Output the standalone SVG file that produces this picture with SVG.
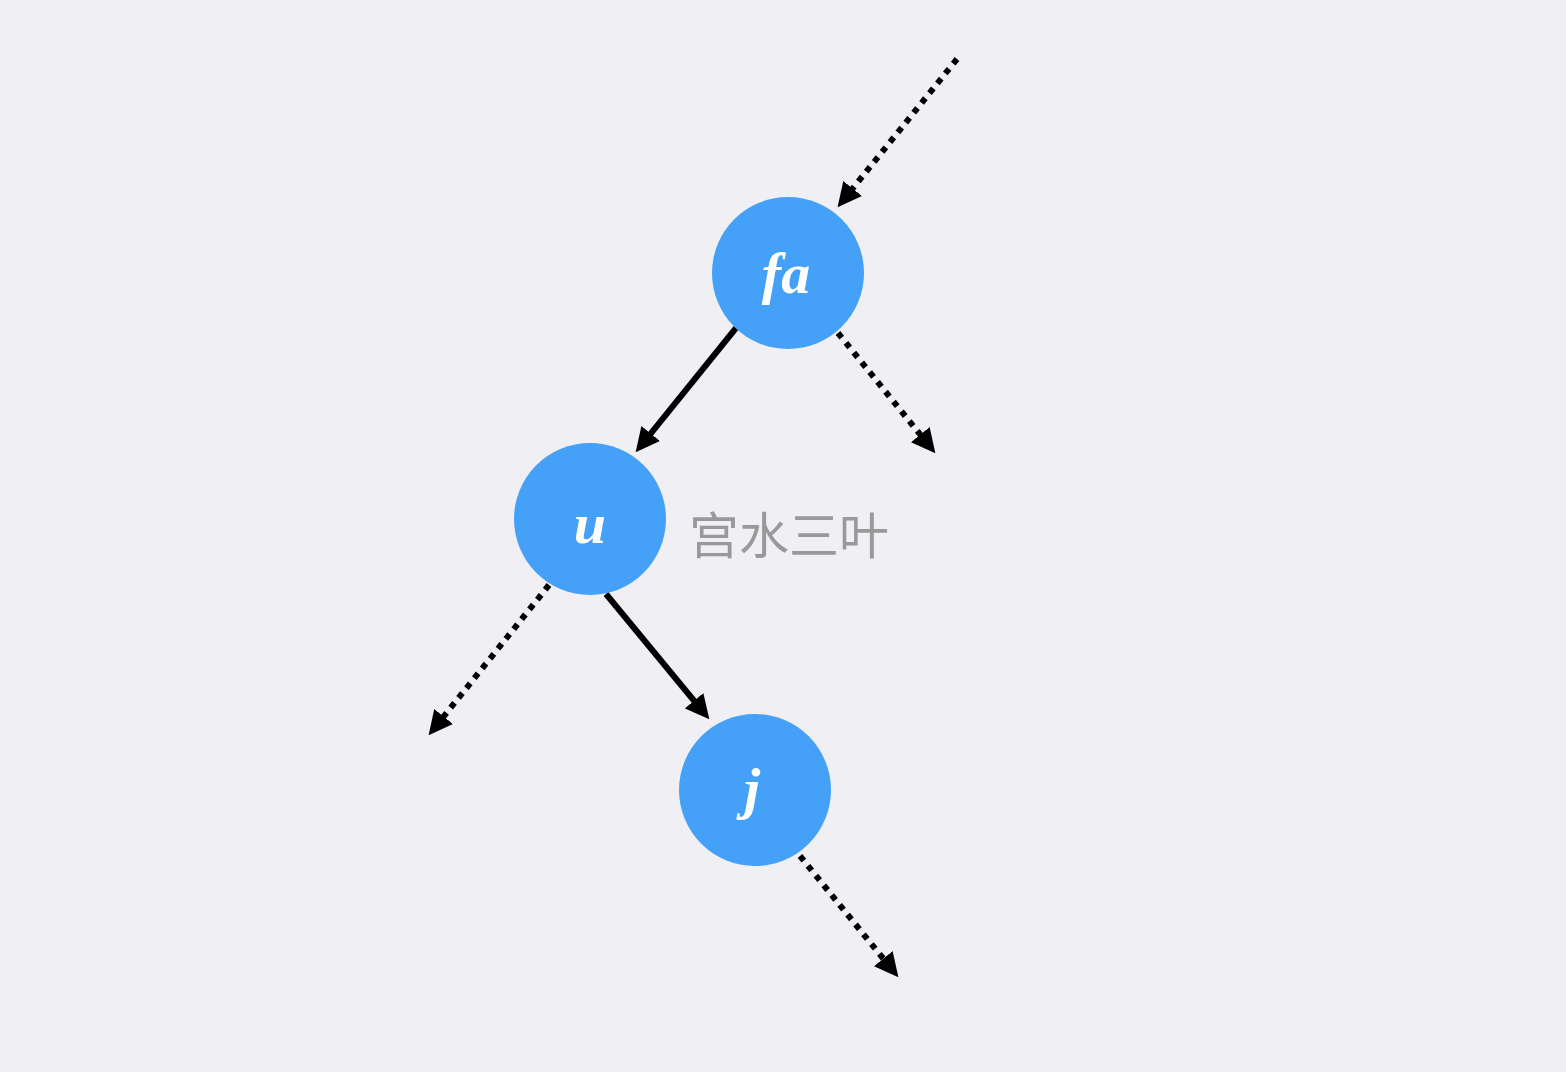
<svg xmlns="http://www.w3.org/2000/svg" width="1566" height="1072" viewBox="0 0 1566 1072">
<style>
.node{fill:#44a1f7}
.lbl{font-family:"Liberation Serif","DejaVu Serif",serif;font-style:italic;font-weight:bold;font-size:58px;fill:#ffffff;text-anchor:middle}
.solid{stroke:#000;stroke-width:6;fill:none}
.dot{stroke:#000;stroke-width:6;fill:none;stroke-dasharray:6 6.6}
.note{font-family:"Noto Sans CJK SC","Noto Sans CJK JP",sans-serif;font-size:50px;fill:#999999}
</style>
<defs>
<marker id="arr" viewBox="0 0 24 24" refX="1" refY="12" markerWidth="24" markerHeight="24" markerUnits="userSpaceOnUse" orient="auto">
<path d="M0,0 L24,12 L0,24 Z" fill="#000"/>
</marker>
</defs>
<rect width="1566" height="1072" fill="#efeff4"/>
<g id="connectors">
<line class="dot" x1="957" y1="59" x2="852" y2="189.3" marker-end="url(#arr)"/>
<line class="solid" x1="736" y1="328" x2="650.1" y2="434.3" marker-end="url(#arr)"/>
<line class="dot" x1="838" y1="333" x2="920.9" y2="435.4" marker-end="url(#arr)"/>
<line class="dot" x1="549" y1="585" x2="443" y2="717.3" marker-end="url(#arr)"/>
<line class="solid" x1="606" y1="594" x2="694.7" y2="701.5" marker-end="url(#arr)"/>
<line class="dot" x1="800" y1="856" x2="883.9" y2="959.4" marker-end="url(#arr)"/>
</g>
<g id="node-fa">
<circle class="node" cx="788" cy="273" r="76"/>
<text class="lbl" x="786" y="293">fa</text>
</g>
<g id="node-u">
<circle class="node" cx="590" cy="519" r="76"/>
<text class="lbl" x="590" y="543">u</text>
</g>
<g id="node-j">
<circle class="node" cx="755" cy="790" r="76"/>
<text class="lbl" x="752" y="808">j</text>
</g>
<g id="note">
<text class="note" x="689" y="554">宫水三叶</text>
</g>
</svg>
